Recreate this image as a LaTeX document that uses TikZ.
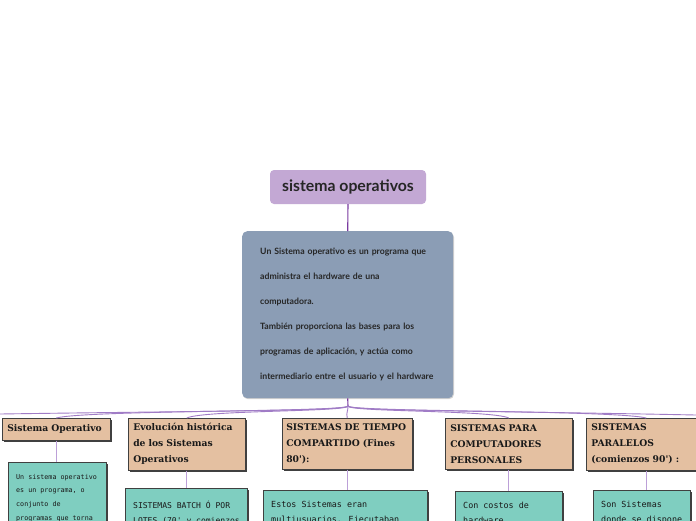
\documentclass[tikz,border=0pt]{standalone}
\usepackage{fontspec}
\newfontfamily\latofont{Lato}
\newfontfamily\serifbfont{DejaVu Serif}
\newfontfamily\monofnt{DejaVu Sans Mono}
\usetikzlibrary{shadows}
\definecolor{rootfill}{HTML}{C3A8D4}
\definecolor{mainfill}{HTML}{8B9DB5}
\definecolor{tanfill}{HTML}{E4C0A1}
\definecolor{tealfill}{HTML}{7FCEC0}
\definecolor{trunk}{HTML}{7A3BA0}
\definecolor{fan}{HTML}{A07CC6}
\definecolor{leafline}{HTML}{BCA0D8}
\tikzset{
  rootbox/.style={fill=rootfill, rounded corners=4pt, minimum width=156pt, minimum height=34pt, inner sep=0pt,
    font=\latofont\bfseries\fontsize{15.8}{18}\selectfont, text=black!85},
  mainbox/.style={fill=mainfill, rounded corners=5pt, anchor=north west, minimum width=211pt, minimum height=167pt,
    inner xsep=18pt, inner ysep=0pt, text width=175pt, align=left,
    font=\latofont\bfseries\fontsize{8.7}{25.1}\selectfont, text=black!85,
    drop shadow={shadow xshift=0.8pt, shadow yshift=-1pt, fill=black!30, opacity=0.6}},
  tanbox/.style={fill=tanfill, draw=black!75, line width=0.5pt, anchor=north west, inner xsep=5pt, inner ysep=0pt,
    align=left, font=\serifbfont\bfseries\fontsize{9.2}{16}\selectfont, text=black!90,
    drop shadow={shadow xshift=2pt, shadow yshift=-2pt, fill=black!75, opacity=1}},
  tealbox/.style={fill=tealfill, draw=black!75, line width=0.5pt, anchor=north west, inner sep=0pt,
    drop shadow={shadow xshift=2pt, shadow yshift=-2pt, fill=black!75, opacity=1}},
  tealtext/.style={anchor=north west, inner sep=0pt, align=left, text=black!90,
    font=\monofnt\fontsize{8.4}{15}\selectfont},
  trunkline/.style={draw=trunk, line width=1.1pt},
  fanline/.style={draw=fan, line width=0.9pt},
  leaf/.style={draw=leafline, line width=0.8pt},
}
\begin{document}
\begin{tikzpicture}[x=1pt,y=-1pt]
\useasboundingbox (0,0) rectangle (696,520);
\clip (0,0) rectangle (696,520);
\fill[white] (0,0) rectangle (696,520);

% root and main
\node[rootbox] (root) at (348,187) {sistema operativos};
\node[mainbox] (main) at (242,231) {Un Sistema operativo es un programa que\\
administra el hardware de una\\
computadora.\\
También proporciona las bases para los\\
programas de aplicación, y actúa como\\
intermediario entre el usuario y el hardware};
\draw[trunkline] (root.south) -- (main.north);

% category boxes
\node[tanbox, minimum width=108pt, minimum height=22pt, text width=98pt] (t1) at (2,418) {Sistema Operativo};
\node[tanbox, minimum width=117pt, minimum height=52pt, text width=107pt] (t2) at (128,418) {Evolución histórica\\de los Sistemas\\Operativos};
\node[tanbox, inner xsep=4pt, minimum width=130pt, minimum height=51pt, text width=122pt] (t3) at (282,418) {SISTEMAS DE TIEMPO\\COMPARTIDO (Fines\\80'):};
\node[tanbox, minimum width=127pt, minimum height=51pt, text width=117pt] (t4) at (445,418) {SISTEMAS PARA\\COMPUTADORES\\PERSONALES};
\node[tanbox, minimum width=120pt, minimum height=52pt, text width=110pt] (t5) at (586,418) {SISTEMAS\\PARALELOS\\(comienzos 90') :};

% fan connectors
\coordinate (fork) at (348,406);
\coordinate (edgeL) at (0,414);
\coordinate (edgeR) at (696,415);
\draw[trunkline] (main.south) -- (fork);
\draw[fanline] (fork) .. controls (348,411) and (200,411) .. (edgeL);
\draw[fanline] (fork) .. controls (348,411) and (500,411) .. (edgeR);
\draw[fanline] (fork) .. controls (348,412) and (86,410) .. (t1.north);
\draw[fanline] (fork) .. controls (348,412) and (204,410) .. (t2.north);
\draw[fanline] (fork) .. controls (348,412) and (346,412) .. (t3.north);
\draw[fanline] (fork) .. controls (348,412) and (492,410) .. (t4.north);
\draw[fanline] (fork) .. controls (348,412) and (614,410) .. (t5.north);

% detail boxes
\node[tealbox, minimum width=98pt, minimum height=80pt] (g1) at (8,462) {};
\node[tealtext, font=\monofnt\fontsize{6.7}{13.6}\selectfont] (g1t) at (16,474) {Un sistema operativo\\es un programa, o\\conjunto de\\programas que torna};
\node[tealbox, minimum width=122pt, minimum height=60pt] (g2) at (125,488) {};
\node[tealtext, font=\monofnt\fontsize{8.05}{15}\selectfont] (g2t) at (133,501) {SISTEMAS BATCH Ó POR\\LOTES (70' y comienzos};
\node[tealbox, minimum width=164pt, minimum height=60pt] (g3) at (263,490) {};
\node[tealtext] (g3t) at (271,501) {Estos Sistemas eran\\multiusuarios. Ejecutaban};
\node[tealbox, minimum width=107pt, minimum height=60pt] (g4) at (455,491) {};
\node[tealtext] (g4t) at (463,502) {Con costos de\\hardware};
\node[tealbox, minimum width=97pt, minimum height=60pt] (g5) at (593,490) {};
\node[tealtext] (g5t) at (601,501) {Son Sistemas\\donde se dispone};

% leaf connectors
\draw[leaf] (t1.south) -- (t1.south |- g1.north);
\draw[leaf] (t2.south) -- (t2.south |- g2.north);
\draw[leaf] (t3.south) -- (t3.south |- g3.north);
\draw[leaf] (t4.south) -- (t4.south |- g4.north);
\draw[leaf] (t5.south) -- (t5.south |- g5.north);
\end{tikzpicture}
\end{document}
